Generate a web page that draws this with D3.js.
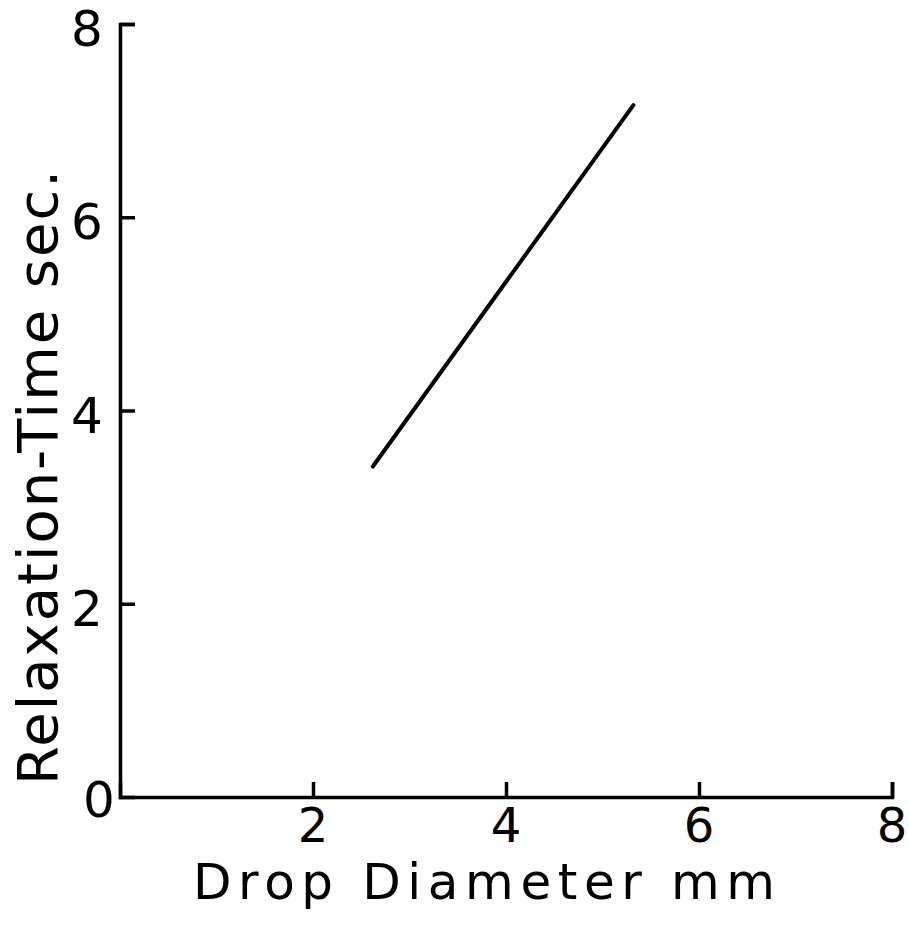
<!DOCTYPE html>
<html>
<head>
<meta charset="utf-8">
<script src="https://cdn.jsdelivr.net/npm/d3@7"></script>
<style>
  html, body { margin: 0; padding: 0; background: #fff; }
  svg text { font-family: "DejaVu Sans", sans-serif; fill: #000; }
</style>
</head>
<body>
<div id="chart"></div>
<script>
const xTicks = [2, 4, 6, 8];
const yTicks = [2, 4, 6, 8];
const lineX = [2.62, 5.32];
const lineY = [3.42, 7.16];

const width = 909, height = 935;
const margin = { top: 24, right: 16, bottom: 138, left: 120 };

const svg = d3.select('#chart')
  .append('svg')
  .attr('width', width)
  .attr('height', height);

const x = d3.scaleLinear()
  .domain([0, 8])
  .range([margin.left, width - margin.right - 1]);

const y = d3.scaleLinear()
  .domain([0, 8])
  .range([height - margin.bottom, margin.top]);

// x axis, ticks pointing up into the plot
const gx = svg.append('g')
  .attr('transform', `translate(0,${y(0)})`)
  .call(d3.axisTop(x).tickValues(xTicks).tickSize(15).tickFormat(''));

// y axis, ticks pointing right into the plot
const gy = svg.append('g')
  .attr('transform', `translate(${x(0)},0)`)
  .call(d3.axisRight(y).tickValues(yTicks).tickSize(15).tickFormat(''));

[gx, gy].forEach(g => {
  g.select('.domain').attr('stroke', '#000').attr('stroke-width', 3.5);
  g.selectAll('.tick line').attr('stroke', '#000').attr('stroke-width', 3.5);
});

// tick labels drawn separately so they sit like the hand lettering
svg.append('g')
  .selectAll('text')
  .data(xTicks)
  .join('text')
  .attr('x', d => x(d))
  .attr('y', y(0) + 45)
  .attr('text-anchor', 'middle')
  .attr('font-size', 48)
  .text(d => d);

svg.append('g')
  .selectAll('text')
  .data(yTicks)
  .join('text')
  .attr('x', x(0) - 33)
  .attr('y', d => y(d) + 22)
  .attr('text-anchor', 'middle')
  .attr('font-size', 50)
  .text(d => d);

svg.append('text')
  .attr('x', x(0) - 21)
  .attr('y', y(0) + 20)
  .attr('text-anchor', 'middle')
  .attr('font-size', 50)
  .text('0');

// fitted line
const line = d3.line()
  .x(d => x(d[0]))
  .y(d => y(d[1]));

svg.append('path')
  .datum(d3.zip(lineX, lineY))
  .attr('d', line)
  .attr('fill', 'none')
  .attr('stroke', '#000')
  .attr('stroke-width', 4)
  .attr('stroke-linecap', 'round');

// axis titles
svg.append('text')
  .attr('x', 193)
  .attr('y', 899)
  .attr('font-size', 50)
  .attr('textLength', 582)
  .attr('lengthAdjust', 'spacing')
  .text('Drop Diameter mm');

svg.append('text')
  .attr('transform', 'translate(57,785) rotate(-90)')
  .attr('font-size', 56)
  .attr('textLength', 615)
  .attr('lengthAdjust', 'spacing')
  .text('Relaxation-Time sec.');
</script>
</body>
</html>
